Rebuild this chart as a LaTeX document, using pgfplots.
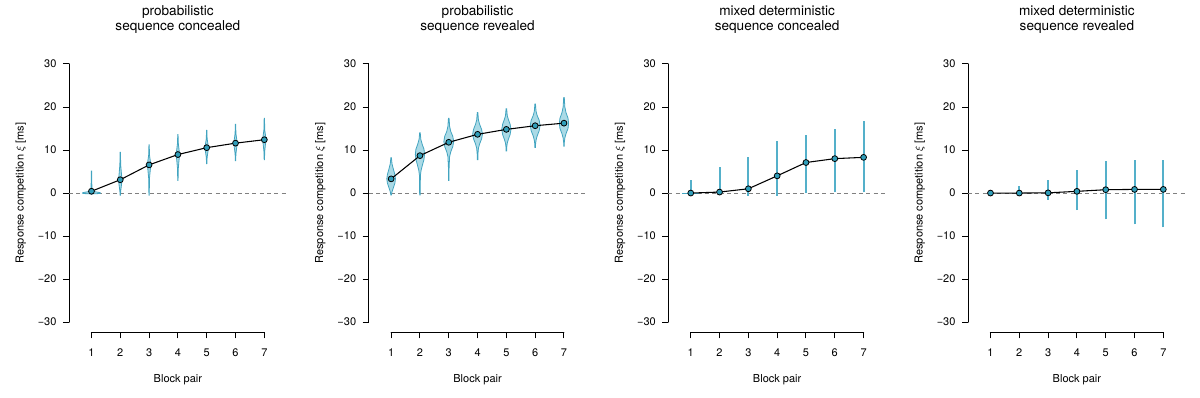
\documentclass[border=0pt]{standalone}
\usepackage{fontspec}
\setmainfont{TeX Gyre Heros}
\usepackage{pgfplots}
\pgfplotsset{compat=1.18}
\definecolor{ptfill}{RGB}{48,158,186}
\definecolor{vline}{RGB}{66,164,192}
\definecolor{eline}{RGB}{84,176,202}
\definecolor{vfill}{RGB}{170,218,230}
\definecolor{zgray}{RGB}{128,128,128}
\pgfplotsset{
 rpanel/.style={
   scale only axis, width=163.35pt, height=209.1pt,
   at={(#1,48.4pt)}, anchor=south west,
   xmin=0.22, xmax=7.78, ymin=-32.4, ymax=32.4,
   axis lines=left, axis line style={draw=none},
   clip=false,
   xtick={1,2,3,4,5,6,7}, xticklabels={1,2,3,4,5,6,7},
   ytick={-30,-20,-10,0,10,20,30},
   yticklabels={−30,−20,−10,0,10,20,30},
   tick align=outside, major tick length=4.5pt,
   tick style={black, line width=0.75pt},
   every tick label/.append style={font=\fontsize{8.25}{9}\selectfont, inner sep=0pt},
   xticklabel style={anchor=north, yshift=-7.35pt},
   yticklabel style={anchor=east, xshift=-4.7pt},
   xlabel={Block pair},
   ylabel={Response competition $\xi$ [ms]},
   label style={font=\fontsize{8.25}{9}\selectfont},
   xlabel style={at={(axis description cs:0.5,-0.1679)}, anchor=center},
   ylabel style={at={(axis description cs:-0.2216,0.5)}, anchor=center},
   title style={at={(axis description cs:0.5,1.094)}, anchor=center, align=center, font=\fontsize{10.2}{11.25}\selectfont},
 },
 zeroline/.style={zgray, dash pattern=on 3pt off 2.5pt, line width=0.6pt},
 meanline/.style={black, line width=0.8pt, mark=*, mark size=2.2pt, mark options={fill=ptfill, draw=black, line width=0.6pt}},
 violin/.style={fill=vfill, draw=vline, line width=0.6pt},
 range/.style={eline, line width=1.5pt, mark=none},
}
\newcommand{\raxes}{%
  \draw[black, line width=0.75pt, line cap=round] (axis cs:0.22,-30) -- (axis cs:0.22,30);
  \draw[black, line width=0.75pt, line cap=round] (axis cs:1,-32.4) -- (axis cs:7,-32.4);}
\begin{document}
\begin{tikzpicture}
\useasboundingbox (0,0) rectangle (900pt,297.75pt);

% ---------- panel 1
\begin{axis}[rpanel=51.75pt, title={probabilistic\\sequence concealed}]
\raxes
\addplot[zeroline] coordinates {(0.22,0) (7.78,0)};
\addplot[violin] coordinates {(1.005,5.1)(1.01,2.5)(1.02,1.0)(1.05,0.4)(1.3,0.1)(1.3,-0.1)(1.01,-0.2)(0.99,-0.2)(0.7,-0.1)(0.7,0.1)(0.95,0.4)(0.98,1.0)(0.99,2.5)(0.995,5.1)} -- cycle;
\addplot[violin] coordinates {(2.005,9.5)(2.015,6.5)(2.04,4.5)(2.06,3.1)(2.04,1.8)(2.015,0.5)(2.005,-0.5)(1.995,-0.5)(1.985,0.5)(1.96,1.8)(1.94,3.1)(1.96,4.5)(1.985,6.5)(1.995,9.5)} -- cycle;
\addplot[violin] coordinates {(3.005,11.2)(3.015,8.8)(3.04,7.6)(3.06,6.5)(3.04,5.3)(3.015,3.5)(3.005,-0.5)(2.995,-0.5)(2.985,3.5)(2.96,5.3)(2.94,6.5)(2.96,7.6)(2.985,8.8)(2.995,11.2)} -- cycle;
\addplot[violin] coordinates {(4.005,13.6)(4.015,11.5)(4.04,10.1)(4.06,8.9)(4.04,7.7)(4.015,5.8)(4.005,2.9)(3.995,2.9)(3.985,5.8)(3.96,7.7)(3.94,8.9)(3.96,10.1)(3.985,11.5)(3.995,13.6)} -- cycle;
\addplot[violin] coordinates {(5.005,14.6)(5.015,12.6)(5.04,11.5)(5.06,10.5)(5.04,9.5)(5.015,8.3)(5.005,6.8)(4.995,6.8)(4.985,8.3)(4.96,9.5)(4.94,10.5)(4.96,11.5)(4.985,12.6)(4.995,14.6)} -- cycle;
\addplot[violin] coordinates {(6.005,16.0)(6.015,13.8)(6.04,12.6)(6.06,11.55)(6.04,10.5)(6.015,9.2)(6.005,7.5)(5.995,7.5)(5.985,9.2)(5.96,10.5)(5.94,11.55)(5.96,12.6)(5.985,13.8)(5.995,16.0)} -- cycle;
\addplot[violin] coordinates {(7.005,17.4)(7.015,14.6)(7.04,13.4)(7.06,12.4)(7.04,11.4)(7.015,9.8)(7.005,7.75)(6.995,7.75)(6.985,9.8)(6.96,11.4)(6.94,12.4)(6.96,13.4)(6.985,14.6)(6.995,17.4)} -- cycle;
\addplot[meanline] coordinates {(1,0.42)(2,3.1)(3,6.55)(4,8.95)(5,10.55)(6,11.6)(7,12.4)};
\end{axis}

% ---------- panel 2
\begin{axis}[rpanel=276.5pt, title={probabilistic\\sequence revealed}]
\raxes
\addplot[zeroline] coordinates {(0.22,0) (7.78,0)};
\addplot[violin] coordinates {(1.01,8.2)(1.03,6.8)(1.08,5.5)(1.13,4.3)(1.15,3.3)(1.13,2.3)(1.08,1.3)(1.03,0.3)(1.01,-0.45)(0.99,-0.45)(0.97,0.3)(0.92,1.3)(0.87,2.3)(0.85,3.3)(0.87,4.3)(0.92,5.5)(0.97,6.8)(0.99,8.2)} -- cycle;
\addplot[violin] coordinates {(2.01,14.0)(2.03,12.5)(2.08,11.3)(2.14,10.2)(2.16,9.0)(2.14,7.8)(2.09,6.6)(2.04,5.3)(2.015,4.0)(2.01,-0.45)(1.99,-0.45)(1.985,4.0)(1.96,5.3)(1.91,6.6)(1.86,7.8)(1.84,9.0)(1.86,10.2)(1.92,11.3)(1.97,12.5)(1.99,14.0)} -- cycle;
\addplot[violin] coordinates {(3.01,17.4)(3.03,15.5)(3.07,14.3)(3.14,13.2)(3.17,12.0)(3.14,10.8)(3.07,9.6)(3.03,8.5)(3.012,6)(3.01,2.9)(2.99,2.9)(2.988,6)(2.97,8.5)(2.93,9.6)(2.86,10.8)(2.83,12.0)(2.86,13.2)(2.93,14.3)(2.97,15.5)(2.99,17.4)} -- cycle;
\addplot[violin] coordinates {(4.01,18.7)(4.03,17.0)(4.07,16.0)(4.14,14.8)(4.17,13.7)(4.14,12.6)(4.07,11.4)(4.03,10.4)(4.012,9)(4.01,7.75)(3.99,7.75)(3.988,9)(3.97,10.4)(3.93,11.4)(3.86,12.6)(3.83,13.7)(3.86,14.8)(3.93,16.0)(3.97,17.0)(3.99,18.7)} -- cycle;
\addplot[violin] coordinates {(5.01,19.6)(5.03,18.0)(5.07,17.1)(5.13,16.0)(5.16,14.8)(5.13,13.6)(5.07,12.5)(5.03,11.6)(5.012,10.6)(5.01,9.8)(4.99,9.8)(4.988,10.6)(4.97,11.6)(4.93,12.5)(4.87,13.6)(4.84,14.8)(4.87,16.0)(4.93,17.1)(4.97,18.0)(4.99,19.6)} -- cycle;
\addplot[violin] coordinates {(6.01,20.7)(6.03,19.0)(6.07,18.0)(6.14,16.9)(6.17,15.7)(6.14,14.5)(6.07,13.3)(6.03,12.3)(6.012,11.3)(6.01,10.6)(5.99,10.6)(5.988,11.3)(5.97,12.3)(5.93,13.3)(5.86,14.5)(5.83,15.7)(5.86,16.9)(5.93,18.0)(5.97,19.0)(5.99,20.7)} -- cycle;
\addplot[violin] coordinates {(7.01,22.2)(7.03,20.0)(7.07,18.7)(7.14,17.4)(7.16,16.2)(7.14,15.0)(7.07,13.8)(7.03,12.8)(7.012,11.8)(7.01,10.9)(6.99,10.9)(6.988,11.8)(6.97,12.8)(6.93,13.8)(6.86,15.0)(6.84,16.2)(6.86,17.4)(6.93,18.7)(6.97,20.0)(6.99,22.2)} -- cycle;
\addplot[meanline] coordinates {(1,3.3)(2,8.7)(3,11.8)(4,13.65)(5,14.8)(6,15.65)(7,16.25)};
\end{axis}

% ---------- panel 3
\begin{axis}[rpanel=501.2pt, title={mixed deterministic\\sequence concealed}]
\raxes
\addplot[zeroline] coordinates {(0.22,0) (7.78,0)};
\addplot[vline, line width=0.6pt] coordinates {(0.7,0) (1.3,0)};
\addplot[range] coordinates {(1,0)(1,3.0)};
\addplot[range] coordinates {(2,0)(2,6.0)};
\addplot[range] coordinates {(3,-0.6)(3,8.45)};
\addplot[range] coordinates {(4,-0.6)(4,12.2)};
\addplot[range] coordinates {(5,0)(5,13.5)};
\addplot[range] coordinates {(6,0.15)(6,14.9)};
\addplot[range] coordinates {(7,0.15)(7,16.8)};
\addplot[meanline] coordinates {(1,0)(2,0.23)(3,1.0)(4,4.0)(5,7.1)(6,8.0)(7,8.3)};
\end{axis}

% ---------- panel 4
\begin{axis}[rpanel=726pt, title={mixed deterministic\\sequence revealed}]
\raxes
\addplot[zeroline] coordinates {(0.22,0) (7.78,0)};
\addplot[range] coordinates {(2,-0.15)(2,1.7)};
\addplot[range] coordinates {(3,-1.5)(3,2.95)};
\addplot[range] coordinates {(4,-3.95)(4,5.35)};
\addplot[range] coordinates {(5,-6.1)(5,7.45)};
\addplot[range] coordinates {(6,-7.3)(6,7.8)};
\addplot[range] coordinates {(7,-8.0)(7,7.8)};
\addplot[meanline] coordinates {(1,0)(2,0)(3,0.05)(4,0.4)(5,0.78)(6,0.85)(7,0.85)};
\end{axis}
\end{tikzpicture}
\end{document}
